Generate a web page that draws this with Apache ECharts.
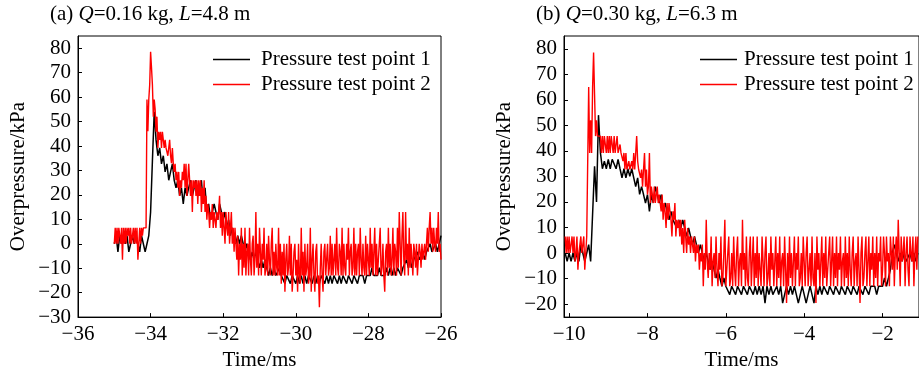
<!DOCTYPE html>
<html>
<head>
<meta charset="utf-8">
<script src="https://cdn.jsdelivr.net/npm/echarts@6/dist/echarts.min.js"></script>
<style>
  html, body { margin: 0; padding: 0; background: #fff; }
  #chart { width: 919px; height: 376px; }
</style>
</head>
<body>
<div id="chart"></div>
<script>
// sampled traces: point 1 every 0.05 ms, point 2 every 0.025 ms
const dt1 = 0.05;
const dt2 = 0.025;

// (a) Q=0.16 kg, L=4.8 m, samples start at -35 ms
const startA = -35;
const pointA1 = [
  0, 3.3, -3.3, 3.3, 0, 3.3, 0, 3.3, -3.3, 0, 3.3, 0, 3.3, 0, -3.3, 3.3, 0, -3.3, 0, 3.3,
  13, 34, 54, 42.5, 36, 39.2, 32.7, 36, 29.4, 32.7, 26, 29.4, 32.7, 26, 22.9, 26, 19.6, 22.9, 16.3, 22.9,
  19.6, 22.9, 26, 19.6, 22.9, 26, 19.6, 22.9, 26, 16.3, 22.9, 13, 16.3, 9.8, 13, 16.3, 13, 9.8, 16.3, 13,
  9.8, 13, 6.5, 9.8, 3.3, 6.5, 3.3, 0, 3.3, 0, 3.3, 0, -3.3, 0, -3.3, -6.5, -3.3, -6.5, -3.3, -6.5,
  -9.8, -6.5, -9.8, -6.5, -9.8, -13, -9.8, -13, -9.8, -13, -13, -9.8, -13, -13, -16.3, -13, -13, -16.3, -13, -13,
  -16.3, -13, -16.3, -13, -16.3, -13, -16.3, -13, -13, -16.3, -13, -16.3, -13, -16.3, -13, -13, -16.3, -13, -16.3, -13,
  -16.3, -13, -13, -16.3, -13, -16.3, -13, -13, -16.3, -13, -13, -16.3, -13, -13, -16.3, -13, -13, -13, -16.3, -13,
  -13, -13, -9.8, -13, -13, -13, -9.8, -13, -13, -13, -9.8, -13, -9.8, -13, -9.8, -13, -9.8, -9.8, -13, -9.8,
  -9.8, -6.5, -9.8, -6.5, -9.8, -6.5, -6.5, -3.3, -6.5, -6.5, -3.3, -6.5, -3.3, -3.3, 0, -3.3, -3.3, 0, -3.3, 0,
  3.3
];
const pointA2 = [
  0, 6.5, 0, 6.5, 0, 6.5, 3.3, 0, 6.5, -6.5, 6.5, 0, 6.5, 0, 6.5, 3.3, 6.5, 0, 6.5, 0,
  3.3, 6.5, 0, 6.5, 0, 6.5, -6.5, 0, 6.5, 0, 6.5, 3.3, 6.5, 6.5, 6.5, 6.5,
  59, 46, 59, 65, 78.5, 72, 65, 52, 59, 55, 45.8, 52, 39.2, 45.8, 42.5, 45.8, 39.2, 45.8, 42.5, 39.2,
  42.5, 39.2, 39.2, 36, 39.2, 42.5, 36, 33, 39.2, 32.7, 29.4, 32.7, 26, 29.4, 22.9, 29.4, 19.6, 26, 22.9, 29.4,
  26, 32.7, 22.9, 32.7, 19.6, 26, 32.7, 26, 19.6, 26, 13, 26, 22.9, 26, 19.6, 26, 16.3, 26, 19.6, 26,
  13, 22.9, 16.3, 26, 13, 19.6, 9.8, 16.3, 13, 6.5, 13, 9.8, 16.3, 6.5, 13, 9.8, 6.5, 13, 9.8, 13,
  19.6, 6.5, 13, 3.3, 13, 6.5, 0, 13, 6.5, 3.3, 13, 0, 6.5, 13, 0, 6.5, -3.3, 6.5, 0, -6.5,
  3.3, -13, 0, -6.5, 6.5,
  -13, 0, -9.8, 6.5, -13, -3.3, 0, -13, 6.5, -6.5, -13, 0, 3.3, -13, -6.5, 13, -9.8, 0, -13, 6.5,
  -3.3, -13, 0, -6.5, 6.5, -13, -9.8, 0, -13, 3.3, -6.5, -13, 0, 6.5, -13, -3.3, -13, 0, -9.8, -13,
  6.5, -13, 0, -16.3, -3.3, -13, 0, -19.6, -6.5, 0, -13, -9.8, 3.3, -13, 0, -19.6, -13, -3.3, 0, -13,
  -6.5, -19.6, 0, -13, -16.3, 6.5, -13, -3.3, -19.6, 0, -13, -9.8, 0, -16.3, -13, 6.5, -19.6, -6.5, 0, -13,
  -19.6, -3.3, 0, -16.3, -13, -26, -9.8, 0, -13, -19.6, -3.3, 0, -13, -6.5, 0, -13, -9.8, 3.3, -13, 0,
  -13, -6.5, 0, -13, 6.5, -9.8, -13, 0, -3.3, -13, 6.5, -13, 0, -9.8, -13, 0, -6.5, 6.5, -13, -3.3,
  0, -13, -9.8, 6.5, -13, 0, -13, -3.3, 0, -13, 6.5, -6.5, -13, 0, -9.8, -13, 3.3, -13, 0, -6.5,
  -13, 6.5, -9.8, 0, -13, -3.3, 6.5, -13, 0, -13, -6.5, 0, 6.5, -13, -9.8, 0, -13, -19.6, -3.3, 0,
  -13, 6.5, -9.8, 0, -13, -6.5, 6.5, -13, 0, -3.3, -13, 6.5, -9.8, 13, 0, -13, 3.3, 13, -6.5, -13,
  13, -6.5, 0, -13, 6.5, -9.8, 0, -6.5, -13, 0, -3.3, -9.8, 0, -13, -6.5, 0, -3.3, -9.8, 0, -6.5,
  -3.3, 0, -6.5, 0, 6.5, -3.3, 6.5, 13, 0, 6.5, -3.3, 6.5, 0, -3.3, 6.5, 0, 13, -3.3, 0, -6.5
];

// (b) Q=0.30 kg, L=6.3 m, samples start at -10.1 ms
const startB = -10.1;
const pointB1 = [
  0, -3.3, 0, -3.3, 0, -3.3, 0, -3.3, 3.3, 0, -3.3, 0, 3.3, -3.3, -3.3, 34, 20, 54, 39.2, 33,
  36, 33, 36.7, 33, 36.7, 36.7, 33, 36.7, 33, 29.4, 33, 29.4, 33, 30, 33, 29.4, 26, 29.4, 23, 26,
  22.9, 19.6, 22.9, 16.3, 22.9, 19.6, 26, 22.9, 19.6, 22.9, 16.3, 19.6, 16.3, 13, 16.3, 13, 13, 9.8, 13, 9.8,
  13, 9.8, 6.5, 9.8, 6.5, 3.3, 6.5, 3.3, 0, 3.3, 0, -3.3, 0, -3.3, -6.5, -3.3, -6.5, -9.8, -6.5, -9.8,
  -13, -9.8, -13, -13, -16.3, -13, -13, -16.3, -13, -13, -16.3, -13, -13, -16.3, -13, -13, -16.3, -13, -16.3, -13,
  -16.3, -13, -19.6, -13, -16.3, -13, -16.3, -16.3, -13, -16.3, -13, -19.6, -16.3, -13, -16.3, -13, -16.3, -13, -16.3, -19.6,
  -16.3, -13, -16.3, -19.6, -16.3, -13, -16.3, -19.6, -13, -16.3, -13, -16.3, -13, -13, -16.3, -13, -13, -16.3, -13, -13,
  -16.3, -13, -13, -16.3, -13, -13, -16.3, -13, -13, -16.3, -13, -13, -16.3, -13, -13, -16.3, -13, -13, -13, -16.3,
  -13, -13, -13, -9.8, -13, -9.8, -6.5, 0, 3.3, 0, -3.3, 0, -3.3, 0, -3.3, -3.3, 0, -3.3, 0, -3.3,
  0
];
const pointB2 = [
  6.5, 0, 6.5, 0, 6.5, 0, 0, 6.5, 0, 6.5, -3.3, 0, 6.5, -6.5, 0, 0, 6.5, 0, 0, 6.5,
  -6.5, 0, 6.5, 6.5,
  65, 39.2, 52, 39.2, 65, 78.5, 62, 45.8, 52, 45.8,
  45.8, 45.8, 45.8, 39.2, 45.8, 39.2, 45.8, 42.5, 39.2, 45.8, 39.2, 45.8, 39.2, 45.8, 45.8, 39.2, 45.8, 39.2, 42.5, 45.8,
  39.2, 39.2,
  42.5, 39.2, 39.2, 36, 39.2, 32.7, 39.2, 32.7, 32.7, 36, 32.7, 32.7, 36, 32.7, 39.2, 32.7, 39.2, 45.8, 36, 32.7,
  32.7, 29.4, 32.7, 26, 32.7, 39.2, 26, 32.7, 22.9, 26, 39.2, 19.6, 26, 22.9, 19.6, 26, 19.6, 22.9, 26, 19.6,
  22.9, 19.6, 16.3, 22.9, 13, 19.6, 16.3, 9.8, 19.6, 13, 19.6, 16.3, 13, 6.5, 16.3, 13, 19.6, 6.5, 13, 9.8,
  13, 6.5, 13, 3.3, 9.8, 0, 13, 6.5, 0, 9.8, 3.3, 6.5, 0, 6.5, 3.3, 0, 6.5, -3.3, 3.3, 0,
  3.3, -6.5, 0, -3.3, 3.3, -13, 0, -6.5, 13, -3.3, -9.8, 0, -6.5, 6.5, -13, -3.3, 0, -9.8, 6.5, -6.5,
  -13, 0, -6.5, 6.5, -13, -9.8, 0, 13, -13, -6.5, 0, 6.5, -13, -9.8, 0, -13, 6.5, -6.5, -13, 0,
  6.5, -13, -3.3, 0, -13, 13, -6.5, 0, -13, 6.5, -9.8, -13, 0, 6.5, -13, -3.3, 6.5, -13, 0, -9.8,
  6.5, -13, 0, -6.5, -13, 6.5, -3.3, -13, 0, 6.5, -13, -9.8, 0, -13, 6.5, -6.5, 0, -13, -3.3, 6.5,
  -13, 0, -9.8, 6.5, -13, -3.3, 0, -13, 6.5, -6.5, -19.6, 0, -13, 6.5, -9.8, 0, -13, -3.3, 6.5, -13,
  0, -6.5, 6.5, -13, -9.8, 0, -13, 6.5, -3.3, -13, 0, 6.5, -13, -6.5, 0, -13, 6.5, -9.8, -13, 0,
  -19.6, 6.5, -6.5, 0, -13, -3.3, 6.5, -13, 0, -9.8, 6.5, -13, -6.5, 0, 6.5, -13, -3.3, 6.5, -13, 0,
  -9.8, 6.5, -13, 0, -6.5, 6.5, -13, -3.3, 0, -13, 6.5, -9.8, 0, -13, 6.5, -6.5, -13, 0, 6.5, -13,
  -3.3, 0, -13, 6.5, -6.5, -19.6, 0, 6.5, -13, -9.8, 0, 6.5, -13, -3.3, 6.5, -13, 0, -6.5, 6.5, -13,
  0, -9.8, 6.5, -13, 0, -3.3, 6.5, -13, -6.5, 6.5, 0, -13, 6.5, -3.3, 0, -13, 6.5, 0, -6.5, 6.5,
  -13, 0, 6.5, -6.5, 13, 0, -13, 6.5, -3.3, 0, 6.5, -13, 0, 6.5, -6.5, -13, 6.5, 0, -3.3, 6.5,
  -13, 0, 6.5, -6.5, 6.5
];

const seriesNames = ["Pressure test point 1", "Pressure test point 2"];
const seriesColors = ["#000000", "#ff0000"];
const seriesWidths = [1.5, 1.4];
const yTicksA = [-30, -20, -10, 0, 10, 20, 30, 40, 50, 60, 70, 80];
const yTicksB = [-20, -10, 0, 10, 20, 30, 40, 50, 60, 70, 80];
const xTicksA = [-36, -34, -32, -30, -28, -26];
const xTicksB = [-10, -8, -6, -4, -2];

const FONT = "Liberation Serif";

const toPairs = (start, step, values) => values.map((v, i) => [+(start + i * step).toFixed(3), v]);

const minus = (v) => String(v).replace("-", "\u2212");

const makeX = (gridIndex, min, max, ticks) => ({
  type: "value",
  gridIndex,
  min,
  max,
  name: "Time/ms",
  nameLocation: "middle",
  nameGap: 28,
  nameTextStyle: { fontFamily: FONT, fontSize: 21, color: "#000" },
  axisLine: { show: true, onZero: false, lineStyle: { color: "#000", width: 1 } },
  axisTick: { show: true, inside: true, length: 4, customValues: ticks, lineStyle: { color: "#000" } },
  axisLabel: { customValues: ticks, margin: 7, fontFamily: FONT, fontSize: 21, color: "#000", formatter: minus },
  splitLine: { show: false },
});

const makeY = (gridIndex, min, max, ticks) => ({
  type: "value",
  gridIndex,
  min,
  max,
  name: "Overpressure/kPa",
  nameLocation: "middle",
  nameGap: 49,
  nameTextStyle: { fontFamily: FONT, fontSize: 21, color: "#000" },
  axisLine: { show: true, onZero: false, lineStyle: { color: "#000", width: 1 } },
  axisTick: { show: true, inside: true, length: 4, customValues: ticks, lineStyle: { color: "#000" } },
  axisLabel: { customValues: ticks, margin: 7, fontFamily: FONT, fontSize: 21, color: "#000", formatter: minus },
  splitLine: { show: false },
});

const makeSeries = (idx, start, step, values, k) => ({
  name: seriesNames[k],
  type: "line",
  xAxisIndex: idx,
  yAxisIndex: idx,
  data: toPairs(start, step, values),
  symbol: "none",
  lineStyle: { color: seriesColors[k], width: seriesWidths[k] },
  itemStyle: { color: seriesColors[k] },
  animation: false,
});

const makeTitle = (left, tag, q, l) => ({
  left,
  top: 4,
  padding: 0,
  text: `{n|(${tag}) }{i|Q}{n|=${q} kg, }{i|L}{n|=${l} m}`,
  textStyle: {
    fontWeight: "normal",
    rich: {
      n: { fontFamily: FONT, fontSize: 21, fontWeight: "normal", color: "#000" },
      i: { fontFamily: FONT, fontSize: 21, fontWeight: "normal", fontStyle: "italic", color: "#000" },
    },
  },
});

const makeLegend = (left, gap) => ({
  left,
  top: 49,
  padding: 0,
  orient: "vertical",
  icon: "rect",
  itemWidth: 37,
  itemHeight: 1.5,
  itemGap: 4,
  data: seriesNames,
  textStyle: { fontFamily: FONT, fontSize: 21, color: "#000", padding: [0, 0, 0, gap] },
});

const chart = echarts.init(document.getElementById("chart"), null, { renderer: "canvas" });

chart.setOption({
  backgroundColor: "#fff",
  animation: false,
  title: [makeTitle(50, "a", "0.16", "4.8"), makeTitle(536, "b", "0.30", "6.3")],
  legend: [makeLegend(213, 6), makeLegend(700, 2)],
  grid: [
    { left: 78, top: 36, width: 363, height: 287, show: true, borderColor: "#000", borderWidth: 1 },
    { left: 564, top: 36, width: 360, height: 287, show: true, borderColor: "#000", borderWidth: 1 },
  ],
  xAxis: [makeX(0, -36, -26, xTicksA), makeX(1, -10.13, -1.07, xTicksB)],
  yAxis: [makeY(0, -30, 85, yTicksA), makeY(1, -25.1, 85, yTicksB)],
  series: [
    makeSeries(0, startA, dt1, pointA1, 0),
    makeSeries(0, startA, dt2, pointA2, 1),
    makeSeries(1, startB, dt1, pointB1, 0),
    makeSeries(1, startB, dt2, pointB2, 1),
  ],
});
</script>
</body>
</html>
